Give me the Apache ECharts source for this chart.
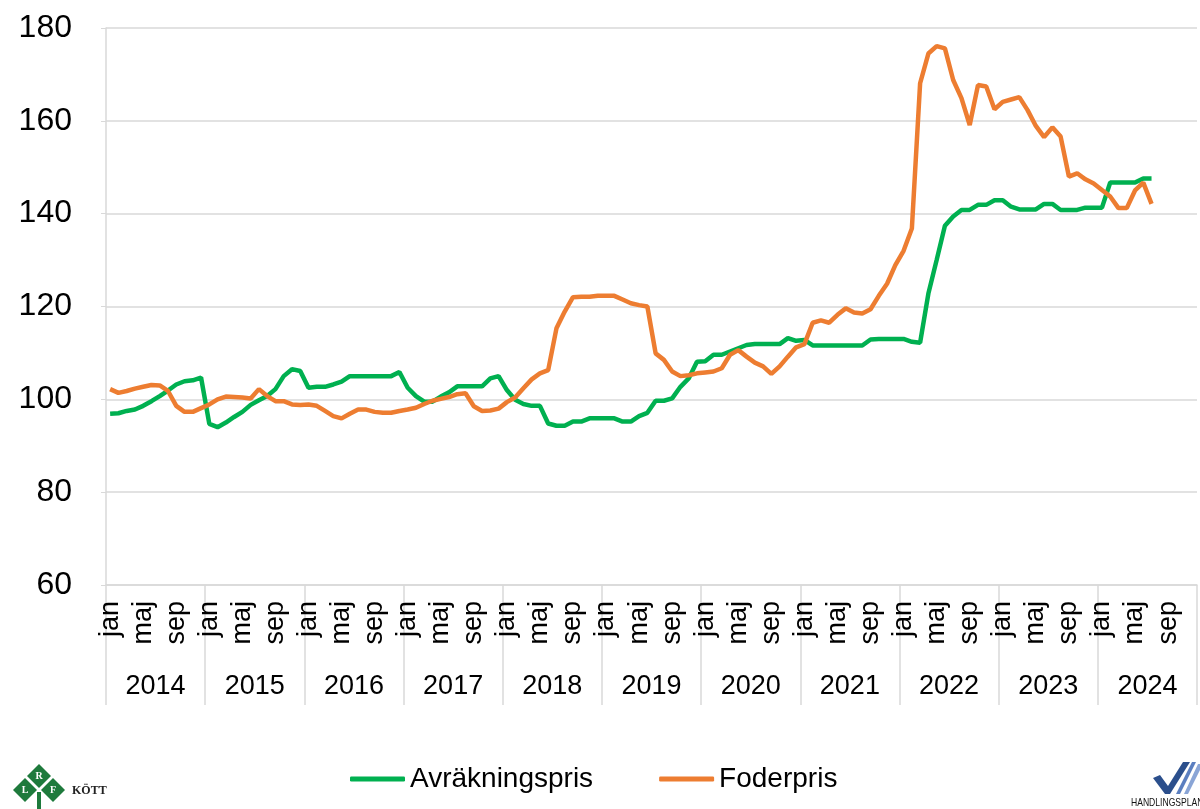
<!DOCTYPE html>
<html>
<head>
<meta charset="utf-8">
<title>Avräkningspris och foderpris</title>
<script src="https://cdn.jsdelivr.net/npm/echarts@6/dist/echarts.min.js"></script>
<style>
  html, body { margin: 0; padding: 0; background: #fff; }
  #main { width: 1200px; height: 809px; }
</style>
</head>
<body>
<div id="main"></div>
<script>
// månader jan 2014 - dec 2024, data t.o.m. jul 2024
var years = ['2014', '2015', '2016', '2017', '2018', '2019', '2020', '2021', '2022', '2023', '2024'];
var monthNames = ['jan', 'feb', 'mar', 'apr', 'maj', 'jun', 'jul', 'aug', 'sep', 'okt', 'nov', 'dec'];

var avrakningspris = [
    96.9, 97.0, 97.5, 97.8, 98.6, 99.6, 100.7, 101.9, 103.2, 103.9, 104.1, 104.7,
    94.7, 94.0, 95.0, 96.2, 97.3, 98.8, 99.8, 100.7, 102.2, 105.0, 106.5, 106.1,
    102.5, 102.7, 102.7, 103.2, 103.8, 105.0, 105.0, 105.0, 105.0, 105.0, 105.0, 105.9,
    102.5, 100.7, 99.5, 99.5, 100.6, 101.5, 102.8, 102.8, 102.8, 102.8, 104.5, 105.0,
    102.0, 99.9, 99.0, 98.6, 98.6, 94.8, 94.3, 94.3, 95.2, 95.2, 95.9, 95.9,
    95.9, 95.9, 95.2, 95.2, 96.4, 97.1, 99.7, 99.7, 100.2, 102.7, 104.5, 108.1,
    108.2, 109.6, 109.6, 110.3, 111.0, 111.7, 111.9, 111.9, 111.9, 111.9, 113.2, 112.6,
    112.8, 111.6, 111.6, 111.6, 111.6, 111.6, 111.6, 111.6, 112.9, 113.0, 113.0, 113.0,
    113.0, 112.4, 112.2, 122.8, 130.0, 137.4, 139.4, 140.8, 140.8, 141.9, 141.9, 142.9,
    142.9, 141.5, 140.9, 140.9, 140.9, 142.1, 142.1, 140.8, 140.8, 140.8, 141.3, 141.3,
    141.3, 146.7, 146.7, 146.7, 146.7, 147.6, 147.6
];

var foderpris = [
    102.2, 101.4, 101.8, 102.3, 102.7, 103.1, 103.0, 101.8, 98.6, 97.3, 97.3, 98.1,
    98.9, 100.0, 100.6, 100.5, 100.4, 100.2, 102.2, 100.7, 99.6, 99.6, 98.9, 98.8,
    98.9, 98.6, 97.5, 96.4, 95.9, 96.9, 97.8, 97.8, 97.3, 97.1, 97.1, 97.5,
    97.8, 98.2, 99.0, 99.7, 100.1, 100.5, 101.1, 101.3, 98.5, 97.5, 97.6, 98.0,
    99.4, 100.4, 102.4, 104.3, 105.6, 106.3, 115.3, 118.9, 122.0, 122.1, 122.1, 122.3,
    122.3, 122.3, 121.5, 120.7, 120.3, 120.0, 109.9, 108.5, 106.0, 105.0, 105.2, 105.6,
    105.8, 106.0, 106.7, 109.6, 110.6, 109.2, 107.9, 107.1, 105.5, 107.1, 109.2, 111.2,
    111.9, 116.5, 117.0, 116.5, 118.2, 119.6, 118.7, 118.5, 119.4, 122.3, 124.9, 128.9,
    132.0, 136.8, 168.1, 174.5, 176.1, 175.6, 168.8, 164.9, 159.1, 167.7, 167.4, 162.5,
    164.1, 164.6, 165.1, 162.3, 158.9, 156.5, 158.6, 156.6, 148.0, 148.7, 147.4, 146.5,
    145.1, 143.7, 141.2, 141.2, 145.0, 146.7, 142.1
];

var months = [];
years.forEach(function (y) {
    monthNames.forEach(function (m) {
        months.push(m);
    });
});

var font = 'Liberation Sans, Arial, sans-serif';
var gridColor = '#d9d9d9';

var myChart = echarts.init(document.getElementById('main'));

var option = {
    backgroundColor: '#fff',
    animation: false,
    textStyle: {fontFamily: font},
    grid: {left: 106, right: 3, top: 28, bottom: 224, containLabel: false},
    legend: {
        left: 345,
        top: 760,
        icon: 'roundRect',
        itemWidth: 55,
        itemHeight: 5,
        itemGap: 66,
        textStyle: {fontSize: 28, color: '#000', fontFamily: font},
        data: ['Avräkningspris', 'Foderpris']
    },
    xAxis: [
        {
            type: 'category',
            data: months,
            boundaryGap: true,
            axisLine: {show: true, lineStyle: {color: gridColor, width: 1.5}},
            axisTick: {show: false},
            axisLabel: {
                rotate: 90,
                margin: 16,
                fontSize: 27,
                color: '#000',
                interval: function (index) {
                    return index % 4 === 0;
                }
            }
        },
        {
            type: 'category',
            data: years,
            position: 'bottom',
            boundaryGap: true,
            axisLine: {show: false},
            axisTick: {show: true, interval: 0, length: 120, lineStyle: {color: gridColor, width: 1.5}},
            axisLabel: {margin: 88, fontSize: 27, color: '#000', interval: 0}
        }
    ],
    yAxis: {
        type: 'value',
        min: 60,
        max: 180,
        interval: 20,
        axisLine: {show: true, lineStyle: {color: gridColor, width: 1.5}},
        axisTick: {show: true, length: 5, lineStyle: {color: gridColor}},
        axisLabel: {margin: 34, fontSize: 32, color: '#000'},
        splitLine: {lineStyle: {color: gridColor, width: 1.5}}
    },
    series: [
        {
            name: 'Avräkningspris',
            type: 'line',
            data: avrakningspris,
            symbol: 'none',
            lineStyle: {color: '#00b050', width: 4.5},
            itemStyle: {color: '#00b050'}
        },
        {
            name: 'Foderpris',
            type: 'line',
            data: foderpris,
            symbol: 'none',
            lineStyle: {color: '#ed7d31', width: 4.5},
            itemStyle: {color: '#ed7d31'}
        }
    ],
    graphic: [
        // LRF Kött logga
        {type: 'polygon', shape: {points: [[39, 764], [51, 776], [39, 788], [27, 776]]}, style: {fill: '#1e7a3c'}},
        {type: 'polygon', shape: {points: [[25, 778], [37, 790], [25, 802], [13, 790]]}, style: {fill: '#1e7a3c'}},
        {type: 'polygon', shape: {points: [[53, 778], [65, 790], [53, 802], [41, 790]]}, style: {fill: '#1e7a3c'}},
        {type: 'rect', shape: {x: 37, y: 792, width: 4, height: 17}, style: {fill: '#1e7a3c'}},
        {type: 'text', x: 39, y: 776, style: {text: 'R', fill: '#fff', font: 'bold 10px Liberation Serif', align: 'center', verticalAlign: 'middle'}},
        {type: 'text', x: 25, y: 790, style: {text: 'L', fill: '#fff', font: 'bold 10px Liberation Serif', align: 'center', verticalAlign: 'middle'}},
        {type: 'text', x: 53, y: 790, style: {text: 'F', fill: '#fff', font: 'bold 10px Liberation Serif', align: 'center', verticalAlign: 'middle'}},
        {type: 'text', x: 72, y: 791, style: {text: 'KÖTT', fill: '#222', font: 'bold 12px Liberation Serif', verticalAlign: 'middle'}},
        // Handlingsplan logga
        {type: 'polygon', shape: {points: [[1153, 778], [1160, 775], [1168, 786], [1183, 762], [1190, 762], [1170, 794], [1165, 794]]}, style: {fill: '#2b4f8c'}},
        {type: 'polygon', shape: {points: [[1176, 794], [1192, 762], [1196, 762], [1180, 794]]}, style: {fill: '#5b7fc0'}},
        {type: 'polygon', shape: {points: [[1184, 794], [1198, 764], [1200, 764], [1200, 770], [1188, 794]]}, style: {fill: '#8aa5d6'}},
        {type: 'text', x: 1131, y: 803, scaleX: 0.78, style: {text: 'HANDLINGSPLAN', fill: '#111', font: '11px Liberation Sans', verticalAlign: 'middle'}}
    ]
};

myChart.setOption(option);

window.addEventListener('resize', function () {
    myChart.resize();
});
</script>
</body>
</html>
